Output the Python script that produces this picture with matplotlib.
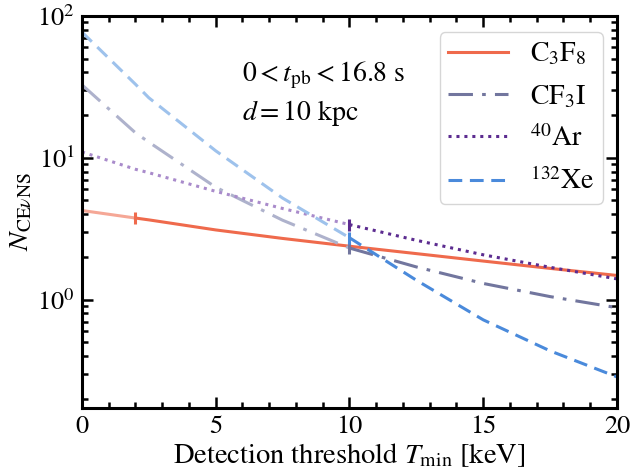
import numpy as np
import matplotlib
matplotlib.use("Agg")
import matplotlib.pyplot as plt
from matplotlib.ticker import MultipleLocator, LogLocator, NullFormatter

plt.rcParams['font.family'] = ['STIXGeneral', 'DejaVu Serif']
plt.rcParams['mathtext.fontset'] = 'stix'

# Data
T = [0, 2, 2.5, 5, 7.5, 10, 12.5, 15, 17.5, 20]
N_C3F8 = [4.25, 3.76, 3.65, 3.10, 2.70, 2.38, 2.11, 1.87, 1.66, 1.48]
N_CF3I = [32.7, 15.0, 12.9, 6.2, 3.63, 2.31, 1.70, 1.30, 1.05, 0.877]
N_Ar = [11.0, 8.3, 7.85, 5.8, 4.39, 3.38, 2.62, 2.07, 1.69, 1.40]
N_Xe = [77.0, 33.0, 26.5, 11.2, 5.2, 2.73, 1.37, 0.72, 0.435, 0.285]
thresholds = {'C3F8': 2, 'CF3I': 10, 'Ar': 10, 'Xe': 10}
labels = {'C3F8': r'$\mathrm{C_3F_8}$', 'CF3I': r'$\mathrm{CF_3I}$',
          'Ar': r'$^{40}\mathrm{Ar}$', 'Xe': r'$^{132}\mathrm{Xe}$'}

series = [
    ('C3F8', N_C3F8, '#EF6A4C', '#F5A796', '-'),
    ('CF3I', N_CF3I, '#72769E', '#AEB2CC', (0, (8, 3, 1.2, 3))),
    ('Ar', N_Ar, '#5C2C90', '#A98BCB', (0, (1, 1.6))),
    ('Xe', N_Xe, '#4A8ADB', '#9EC2EC', (0, (4.5, 2.5))),
]

fig = plt.figure(figsize=(6.32, 4.68), dpi=100)
ax = fig.add_axes([0.1297, 0.1282, 0.8465, 0.8376])

T_arr = np.array(T, dtype=float)
for key, vals, dark, light, ls in series:
    v = np.array(vals, dtype=float)
    t0 = thresholds[key]
    lo = T_arr <= t0
    hi = T_arr >= t0
    ax.plot(T_arr[lo], v[lo], color=light, ls=ls, lw=2.2)
    ax.plot(T_arr[hi], v[hi], color=dark, ls=ls, lw=2.2, label=labels[key])
    idx = list(T_arr).index(t0)
    ax.plot([t0], [v[idx]], marker='|', ms=9, mew=2.2, color=dark, ls='none')

ax.set_yscale('log')
ax.set_xlim(0, 20)
ax.set_ylim(0.172, 100)
ax.xaxis.set_major_locator(MultipleLocator(5))
ax.xaxis.set_minor_locator(MultipleLocator(1))
ax.yaxis.set_minor_locator(LogLocator(base=10, subs=np.arange(2, 10)))
ax.yaxis.set_minor_formatter(NullFormatter())
ax.tick_params(which='both', direction='in', top=True, right=True, width=1.8,
               labelsize=19)
ax.tick_params(which='major', length=8, pad=5)
ax.tick_params(which='minor', length=4.5)
for s in ax.spines.values():
    s.set_linewidth(2.2)

ax.set_xlabel(r'Detection threshold $T_{\rm min}$ [keV]', fontsize=20.5, labelpad=2)
ax.set_ylabel(r'$N_{\mathrm{CE}\nu\mathrm{NS}}$', fontsize=20, labelpad=2)

ax.text(0.30, 0.85, r'$0 < t_{\rm pb} < 16.8$ s', transform=ax.transAxes,
        fontsize=20, va='center', ha='left')
ax.text(0.30, 0.753, r'$d = 10$ kpc', transform=ax.transAxes,
        fontsize=20, va='center', ha='left')

leg = ax.legend(loc='upper right', fontsize=20, frameon=True, fancybox=True,
                handlelength=2.15, handletextpad=0.8, borderpad=0.3,
                borderaxespad=0.0, labelspacing=0.56,
                bbox_to_anchor=(0.974, 0.959))
leg.get_frame().set_edgecolor('#cccccc')
leg.get_frame().set_linewidth(1.0)

fig.savefig('out.png', dpi=100)
